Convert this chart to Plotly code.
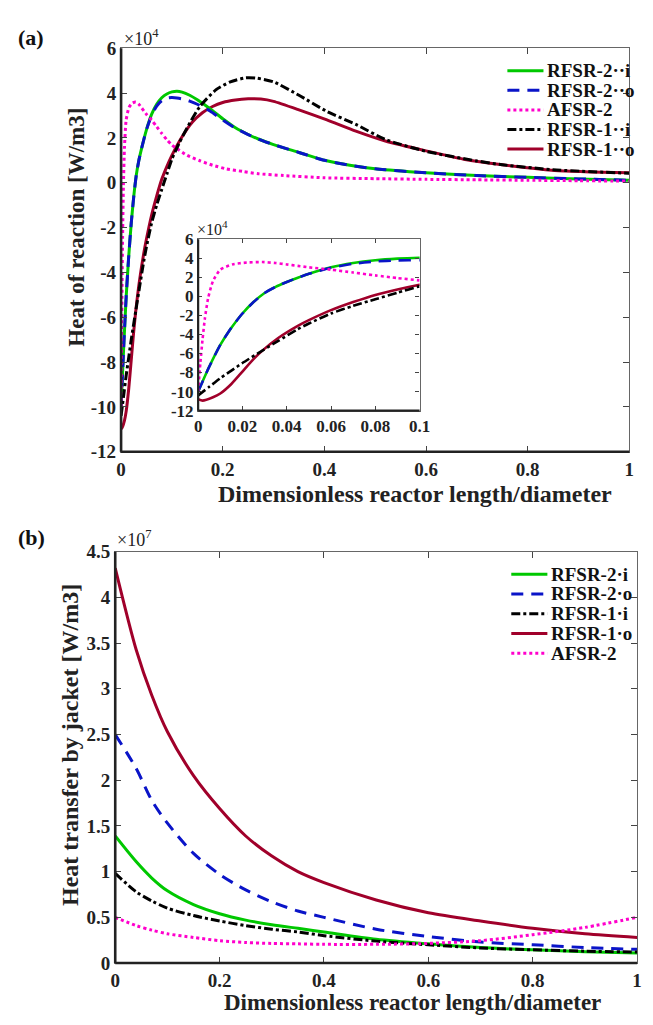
import plotly.graph_objects as go

W, H = 653, 1025
FONT = "Liberation Serif"

# ---------------- Panel (a): heat of reaction (x 1e4 W/m3) ----------------
a_rfsr2_i_x = [0, 0.005, 0.01, 0.015, 0.02, 0.025, 0.03, 0.035, 0.04, 0.045, 0.05, 0.06, 0.07, 0.08, 0.09,
               0.1, 0.11, 0.12, 0.135, 0.15, 0.175, 0.2, 0.225, 0.25, 0.27, 0.3, 0.35, 0.4, 0.45,
               0.5, 0.6, 0.7, 0.8, 0.9, 1.0]
a_rfsr2_i_y = [-10.0, -7.4, -5.1, -3.3, -1.8, -0.6, 0.35, 1.0, 1.5, 1.95, 2.37, 3.05, 3.5, 3.79, 3.96,
               4.05, 4.08, 4.04, 3.9, 3.7, 3.3, 2.85, 2.45, 2.15, 1.95, 1.7, 1.35, 1.0, 0.78,
               0.62, 0.44, 0.32, 0.24, 0.17, 0.11]

a_rfsr2_o_x = [0, 0.005, 0.01, 0.015, 0.02, 0.025, 0.03, 0.035, 0.04, 0.045, 0.05, 0.06, 0.07, 0.08, 0.09,
               0.1, 0.11, 0.12, 0.135, 0.15, 0.175, 0.2, 0.225, 0.25, 0.27, 0.3, 0.35, 0.4, 0.45,
               0.5, 0.6, 0.7, 0.8, 0.9, 1.0]
a_rfsr2_o_y = [-10.0, -7.4, -5.1, -3.3, -1.8, -0.6, 0.35, 1.0, 1.5, 1.95, 2.37, 3.0, 3.42, 3.66, 3.77,
               3.8, 3.78, 3.74, 3.64, 3.5, 3.2, 2.8, 2.43, 2.15, 1.95, 1.7, 1.35, 1.0, 0.78,
               0.62, 0.44, 0.32, 0.24, 0.17, 0.11]

a_afsr2_x = [0, 0.001, 0.002, 0.003, 0.0045, 0.0067, 0.01, 0.0155, 0.022, 0.029, 0.035, 0.04,
             0.045, 0.05, 0.06, 0.07, 0.08, 0.09, 0.1, 0.111, 0.13, 0.155, 0.18, 0.207, 0.24,
             0.27, 0.32, 0.4, 0.5, 0.6, 0.7, 0.8, 0.9, 1.0]
a_afsr2_y = [-10.0, -7.0, -4.5, -2.4, -0.2, 1.6, 2.8, 3.35, 3.55, 3.6, 3.5, 3.35,
             3.2, 3.05, 2.8, 2.5, 2.2, 1.92, 1.68, 1.5, 1.22, 0.98, 0.78, 0.62, 0.5,
             0.4, 0.32, 0.22, 0.18, 0.15, 0.13, 0.11, 0.09, 0.07]

a_rfsr1_i_x = [0, 0.005, 0.01, 0.015, 0.02, 0.029, 0.036, 0.045, 0.05, 0.06, 0.07, 0.08, 0.09, 0.1,
               0.115, 0.13, 0.155, 0.187, 0.215, 0.245, 0.265, 0.3, 0.35, 0.405, 0.462, 0.52,
               0.6, 0.7, 0.75, 0.85, 1.0]
a_rfsr1_i_y = [-10.4, -9.5, -8.6, -7.8, -7.0, -5.7, -4.7, -3.45, -2.85, -1.8, -1.0, -0.3, 0.38, 1.05,
               1.8, 2.45, 3.4, 4.15, 4.5, 4.68, 4.67, 4.5, 3.9, 3.18, 2.6, 1.93,
               1.4, 0.97, 0.8, 0.58, 0.42]

a_rfsr1_o_x = [0, 0.002, 0.0067, 0.01, 0.015, 0.02, 0.025, 0.029, 0.036, 0.045, 0.05, 0.06, 0.07,
               0.08, 0.09, 0.1, 0.12, 0.14, 0.16, 0.18, 0.2, 0.225, 0.25, 0.275, 0.3, 0.35, 0.405,
               0.462, 0.52, 0.6, 0.674, 0.75, 0.853, 1.0]
a_rfsr1_o_y = [-10.8, -10.95, -10.6, -10.2, -9.2, -7.9, -6.6, -5.7, -4.4, -3.1, -2.5, -1.45, -0.6,
               0.15, 0.72, 1.22, 2.05, 2.7, 3.12, 3.4, 3.58, 3.69, 3.74, 3.73, 3.63, 3.25, 2.8,
               2.3, 1.86, 1.42, 1.05, 0.8, 0.55, 0.44]

# ---------------- Panel (b): heat transfer by jacket (x 1e7 W/m3) ----------------
b_x = [0, 0.04, 0.07, 0.1, 0.15, 0.2, 0.25, 0.3, 0.35, 0.4, 0.5, 0.6, 0.7, 0.8, 0.9, 1.0]
b_rfsr2_i = [1.39, 1.11, 0.93, 0.79, 0.64, 0.54, 0.47, 0.42, 0.38, 0.34, 0.26, 0.21, 0.17, 0.145, 0.125, 0.11]
b_rfsr2_o = [2.5, 2.13, 1.78, 1.53, 1.2, 0.97, 0.8, 0.67, 0.57, 0.5, 0.37, 0.29, 0.23, 0.2, 0.17, 0.15]
b_rfsr1_i = [0.98, 0.78, 0.68, 0.6, 0.52, 0.46, 0.41, 0.37, 0.34, 0.3, 0.24, 0.2, 0.165, 0.145, 0.13, 0.12]
b_rfsr1_o = [4.32, 3.43, 2.93, 2.53, 2.05, 1.69, 1.39, 1.17, 1.0, 0.88, 0.69, 0.55, 0.46, 0.38, 0.32, 0.28]
b_afsr2 = [0.5, 0.41, 0.36, 0.32, 0.28, 0.245, 0.225, 0.215, 0.21, 0.205, 0.205, 0.215, 0.245, 0.31, 0.39, 0.5]

a_xticks = [0, 0.2, 0.4, 0.6, 0.8, 1]
a_yticks = [-12, -10, -8, -6, -4, -2, 0, 2, 4, 6]
inset_xticks = [0, 0.02, 0.04, 0.06, 0.08, 0.1]
b_yticks = [0, 0.5, 1, 1.5, 2, 2.5, 3, 3.5, 4, 4.5]

STY = {
    "g": dict(color="#00c800", width=3, dash="solid"),
    "b": dict(color="#0a14c8", width=3, dash="12px,8px"),
    "m": dict(color="#ff00cc", width=3, dash="dot"),
    "k": dict(color="#000000", width=3, dash="dashdot"),
    "r": dict(color="#a0002a", width=3, dash="solid"),
}

a_series = [
    ("RFSR-2··i", a_rfsr2_i_x, a_rfsr2_i_y, "g"),
    ("RFSR-2··o", a_rfsr2_o_x, a_rfsr2_o_y, "b"),
    ("AFSR-2", a_afsr2_x, a_afsr2_y, "m"),
    ("RFSR-1··i", a_rfsr1_i_x, a_rfsr1_i_y, "k"),
    ("RFSR-1··o", a_rfsr1_o_x, a_rfsr1_o_y, "r"),
]
b_series = [
    ("RFSR-2·i", b_rfsr2_i, "g"),
    ("RFSR-2·o", b_rfsr2_o, "b"),
    ("RFSR-1·i", b_rfsr1_i, "k"),
    ("RFSR-1·o", b_rfsr1_o, "r"),
    ("AFSR-2", b_afsr2, "m"),
]

fig = go.Figure()
a_order = [4, 0, 1, 2, 3]
for i in a_order:
    name, xs, ys, k = a_series[i]
    fig.add_trace(go.Scatter(x=xs, y=ys, mode="lines", name=name, line=dict(STY[k], shape="spline", smoothing=0.6),
                             xaxis="x", yaxis="y", showlegend=False, hoverinfo="skip"))
for i in a_order:
    name, xs, ys, k = a_series[i]
    st = dict(STY[k]); st["width"] = 2.6
    fig.add_trace(go.Scatter(x=xs, y=ys, mode="lines", name=name, line=dict(st, shape="spline", smoothing=0.6),
                             xaxis="x2", yaxis="y2", showlegend=False, hoverinfo="skip"))
for i in [3, 0, 1, 2, 4]:
    name, ys, k = b_series[i]
    fig.add_trace(go.Scatter(x=b_x, y=ys, mode="lines", name=name, line=dict(STY[k], shape="spline", smoothing=0.8),
                             xaxis="x3", yaxis="y3", showlegend=False, hoverinfo="skip"))


def px(X):
    return X / W


def py(Y):
    return 1 - Y / H


def fmt(v):
    return "<b>%s</b>" % ("%g" % v)


tickfont = dict(family=FONT, size=19, color="#222")
inset_tickfont = dict(family=FONT, size=17, color="#222")
axcommon = dict(showgrid=False, zeroline=False, showline=True, linecolor="#666", linewidth=1.3,
                mirror="ticks", ticks="inside", tickcolor="#444", tickwidth=1.3)

fig.update_layout(
    width=W, height=H, margin=dict(l=0, r=0, t=0, b=0),
    paper_bgcolor="white", plot_bgcolor="white", showlegend=False,
    font=dict(family=FONT, size=19, color="#222"),
    xaxis=dict(axcommon, domain=[px(119), px(640)], range=[0, 1], anchor="y",
               tickvals=a_xticks, ticktext=[fmt(v) for v in a_xticks], tickfont=tickfont, ticklen=6,
               ticklabelstandoff=0),
    yaxis=dict(axcommon, domain=[py(451), py(39)], range=[-12, 6], anchor="x",
               tickvals=a_yticks, ticktext=[fmt(v) for v in a_yticks], tickfont=tickfont, ticklen=6),
    xaxis2=dict(axcommon, domain=[px(198), px(425)], range=[0, 0.1], anchor="y2",
                tickvals=inset_xticks, ticktext=[fmt(v) for v in inset_xticks], tickfont=inset_tickfont, ticklen=4),
    yaxis2=dict(axcommon, domain=[py(409), py(234)], range=[-12, 6], anchor="x2",
                tickvals=a_yticks, ticktext=[fmt(v) for v in a_yticks], tickfont=inset_tickfont, ticklen=4,
                ticklabelstandoff=0),
    xaxis3=dict(axcommon, domain=[px(113), px(648)], range=[0, 1], anchor="y3",
                tickvals=a_xticks, ticktext=[fmt(v) for v in a_xticks], tickfont=tickfont, ticklen=6,
                ticklabelstandoff=0),
    yaxis3=dict(axcommon, domain=[py(973), py(553)], range=[0, 4.5], anchor="x3",
                tickvals=b_yticks, ticktext=[fmt(v) for v in b_yticks], tickfont=tickfont, ticklen=6),
)

shapes = []
for xa, ya in [("x", "y"), ("x2", "y2"), ("x3", "y3")]:
    w = 2.6 if xa != "x2" else 2.2
    shapes.append(dict(type="line", xref=xa + " domain", yref=ya + " domain", x0=0, x1=0, y0=0, y1=1,
                       line=dict(color="#222", width=w)))
    shapes.append(dict(type="line", xref=xa + " domain", yref=ya + " domain", x0=0, x1=1, y0=0, y1=0,
                       line=dict(color="#222", width=w)))

annotations = []
legfont = dict(family=FONT, size=19, color="#111", weight="bold")
for j, (name, xs, ys, k) in enumerate(a_series):
    Y = 62 + j * 20
    shapes.append(dict(type="line", xref="paper", yref="paper", x0=px(515), x1=px(552), y0=py(Y), y1=py(Y),
                       line=STY[k]))
    annotations.append(dict(text=name, x=px(554), y=py(Y), xanchor="left", yanchor="middle", font=legfont))
for j, (name, ys, k) in enumerate(b_series):
    Y = 576 + j * 20.2
    shapes.append(dict(type="line", xref="paper", yref="paper", x0=px(519), x1=px(556), y0=py(Y), y1=py(Y),
                       line=STY[k]))
    annotations.append(dict(text=name, x=px(558), y=py(Y), xanchor="left", yanchor="middle", font=legfont))

titlefont = dict(family=FONT, size=23, color="#222", weight="bold")
annotations += [
    dict(text="(a)", x=px(27), y=py(28), xanchor="center", yanchor="middle",
         font=dict(family=FONT, size=22, color="#111", weight="bold")),
    dict(text="(b)", x=px(27), y=py(539), xanchor="center", yanchor="middle",
         font=dict(family=FONT, size=22, color="#111", weight="bold")),
    dict(text="×10<sup>4</sup>", x=px(120), y=py(28), xanchor="left", yanchor="middle",
         font=dict(family=FONT, size=18, color="#222")),
    dict(text="×10<sup>4</sup>", x=px(195), y=py(223), xanchor="left", yanchor="middle",
         font=dict(family=FONT, size=16, color="#222")),
    dict(text="×10<sup>7</sup>", x=px(113), y=py(540), xanchor="left", yanchor="middle",
         font=dict(family=FONT, size=18, color="#222")),
    dict(text="Dimensionless reactor length/diameter", x=px(420), y=py(494), xanchor="center", yanchor="middle",
         font=dict(titlefont, size=24)),
    dict(text="Heat of reaction [W/m3]", x=px(73), y=py(222), textangle=-90, xanchor="center", yanchor="middle",
         font=titlefont),
    dict(text="Heat transfer by jacket [W/m3]", x=px(66), y=py(750), textangle=-90, xanchor="center",
         yanchor="middle", font=dict(titlefont, size=24)),
    dict(text="Dimensionless reactor length/diameter", x=px(418), y=py(1013), xanchor="center", yanchor="middle",
         font=titlefont),
]
for a in annotations:
    a.setdefault("xref", "paper")
    a.setdefault("yref", "paper")
    a["showarrow"] = False

fig.update_layout(shapes=shapes, annotations=annotations)
fig.write_html("out.html", config={"displayModeBar": False},
               post_script="document.body.style.margin='0';document.body.style.overflow='hidden';")
